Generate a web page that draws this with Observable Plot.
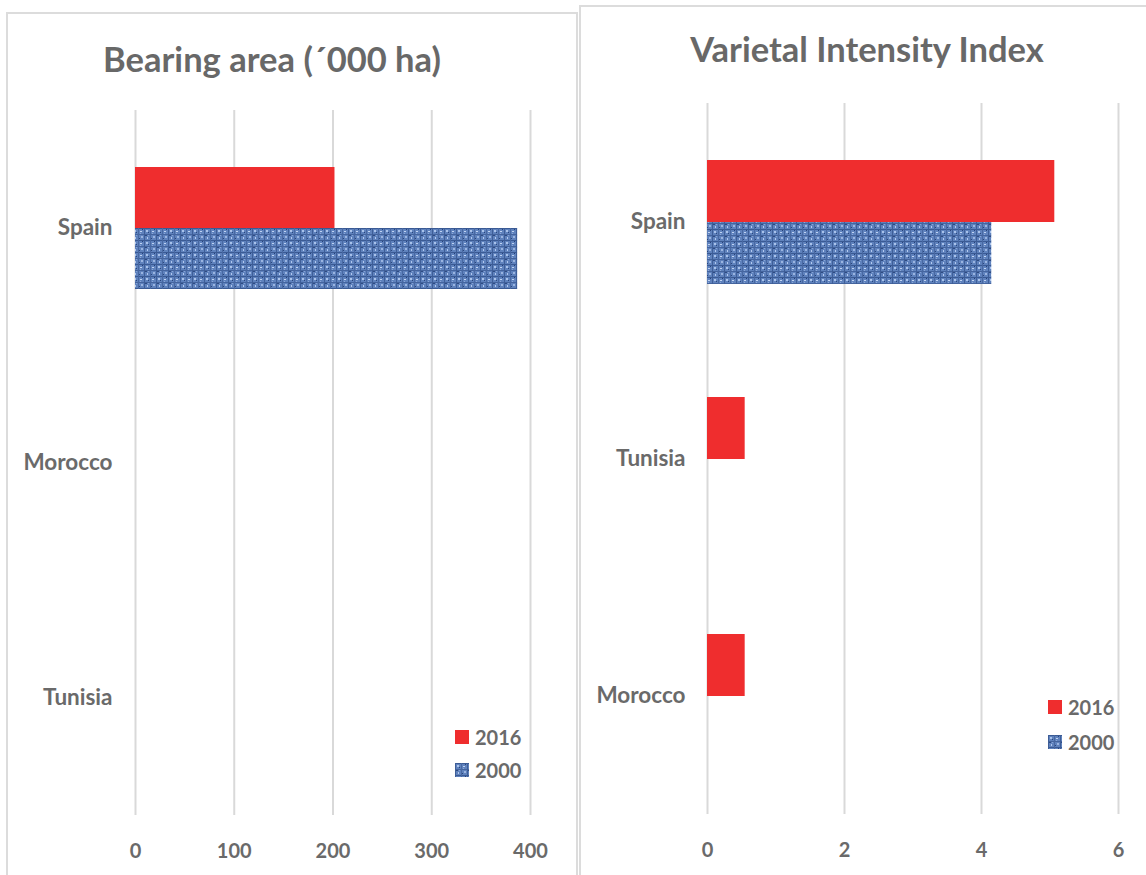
<!DOCTYPE html>
<html>
<head>
<meta charset="utf-8">
<script src="https://cdn.jsdelivr.net/npm/d3@7"></script>
<script src="https://cdn.jsdelivr.net/npm/@observablehq/plot@0.6"></script>
<style>
  html, body { margin: 0; padding: 0; background: #fff; }
  body { width: 1146px; height: 875px; position: relative; overflow: hidden; font-family: Lato, "Open Sans", sans-serif; }
  .panel { position: absolute; border: 2px solid #dcdcdc; box-sizing: border-box; background: #fff; }
  .title { position: absolute; font-weight: bold; color: #686868; white-space: nowrap; transform: translate(-50%, -50%); }
  .chart { position: absolute; top: 0; }
  .legend { position: absolute; font-weight: bold; color: #6a6a6a; font-size: 20px; }
  .legend .item { position: absolute; left: 0; display: flex; align-items: center; white-space: nowrap; }
  .legend svg { margin-right: 6px; }
  .chart g[aria-label="fy-axis"] text, .chart g[aria-label="fy-axis tick label"] text { font-size: 22.5px; }
</style>
</head>
<body>
<svg width="0" height="0" style="position:absolute">
  <defs>
    <pattern id="denim" width="12" height="12" patternUnits="userSpaceOnUse">
      <rect width="12" height="12" fill="#5f82bd"/>
      <rect x="0" y="0" width="12" height="1" fill="#3a5a94"/>
      <rect x="0" y="6" width="12" height="1" fill="#44649e"/>
      <rect x="0" y="0" width="1" height="12" fill="#3e5e98"/>
      <rect x="6" y="0" width="1" height="12" fill="#4868a2"/>
      <rect x="2" y="2" width="2" height="2" fill="#a9c2ea"/>
      <rect x="8" y="3" width="2" height="1" fill="#c0d3f2"/>
      <rect x="9" y="8" width="2" height="2" fill="#9ab4e0"/>
      <rect x="3" y="9" width="1" height="2" fill="#b2c8ee"/>
      <rect x="4" y="4" width="1" height="1" fill="#2a467c"/>
      <rect x="10" y="1" width="1" height="1" fill="#27427a"/>
      <rect x="1" y="7" width="2" height="1" fill="#2e4b82"/>
      <rect x="7" y="10" width="1" height="1" fill="#2a467c"/>
      <rect x="4" y="7" width="1" height="1" fill="#87a4d6"/>
      <rect x="8" y="5" width="1" height="1" fill="#8aa7d8"/>
    </pattern>
  </defs>
</svg>

<div class="panel" style="left:6px; top:12px; width:572px; height:880px;"></div>
<div class="panel" style="left:579px; top:5px; width:580px; height:890px;"></div>

<div class="title" style="left:272px; top:58px; font-size:34.5px;">Bearing area (´000 ha)</div>
<div class="title" style="left:867px; top:48px; font-size:34.5px;">Varietal Intensity Index</div>

<div id="left" class="chart" style="left:0px;"></div>
<div id="right" class="chart" style="left:580px;"></div>

<div class="legend" style="left:455px; top:725px;">
  <div class="item" style="top:0px;"><svg width="14" height="14"><rect width="14" height="14" fill="#ef2d2e"/></svg>2016</div>
  <div class="item" style="top:33px;"><svg width="14" height="14"><rect width="14" height="14" fill="url(#denim)"/></svg>2000</div>
</div>
<div class="legend" style="left:1048px; top:695px;">
  <div class="item" style="top:0px;"><svg width="14" height="14"><rect width="14" height="14" fill="#ef2d2e"/></svg>2016</div>
  <div class="item" style="top:35px;"><svg width="14" height="14"><rect width="14" height="14" fill="url(#denim)"/></svg>2000</div>
</div>

<script>
// ---- Data ----
const years = ["2016", "2000"];

const bearingCountries = ["Spain", "Morocco", "Tunisia"];
const bearing2016 = [202, null, null];
const bearing2000 = [387, null, null];
const bearingTicks = [0, 100, 200, 300, 400];

const viiCountries = ["Spain", "Tunisia", "Morocco"];
const vii2016 = [5.07, 0.55, 0.55];
const vii2000 = [4.15, null, null];
const viiTicks = [0, 2, 4, 6];

const RED = "#ef2d2e";
const TEXTURE = "url(#denim)";

function rows(countries, values, year) {
  return countries.map((c, i) => ({country: c, year, value: values[i]}));
}

function makeChart({countries, v2016, v2000, ticks, width, height, margins, fyPad}) {
  const d16 = rows(countries, v2016, "2016");
  const d00 = rows(countries, v2000, "2000");
  return Plot.plot({
    width, height,
    marginTop: margins[0], marginRight: margins[1], marginBottom: margins[2], marginLeft: margins[3],
    style: {fontFamily: "Lato, 'Open Sans', sans-serif", fontSize: "20px", fontWeight: "bold", color: "#6a6a6a", background: "transparent", overflow: "visible"},
    x: {domain: [ticks[0], ticks[ticks.length - 1]], ticks: ticks, tickFormat: d => String(d), tickSize: 0, tickPadding: 28, label: null},
    y: {domain: years, axis: null, paddingInner: 0, paddingOuter: 0.9},
    fy: {domain: countries, axis: "left", tickSize: 0, tickPadding: fyPad, label: null, padding: 0},
    facet: {data: d16, y: "country"},
    marks: [
      Plot.ruleX(ticks, {stroke: "#d9d9d9", strokeWidth: 2}),
      Plot.barX(d16, {x: "value", y: "year", fill: RED}),
      Plot.barX(d00, {x: "value", y: "year", fy: "country", fill: TEXTURE})
    ]
  });
}

document.getElementById("left").append(makeChart({
  countries: bearingCountries, v2016: bearing2016, v2000: bearing2000, ticks: bearingTicks,
  width: 580, height: 875, margins: [110, 50, 60, 135], fyPad: 23
}));

document.getElementById("right").append(makeChart({
  countries: viiCountries, v2016: vii2016, v2000: vii2000, ticks: viiTicks,
  width: 566, height: 875, margins: [102, 28, 61, 127], fyPad: 22
}));
</script>
</body>
</html>
